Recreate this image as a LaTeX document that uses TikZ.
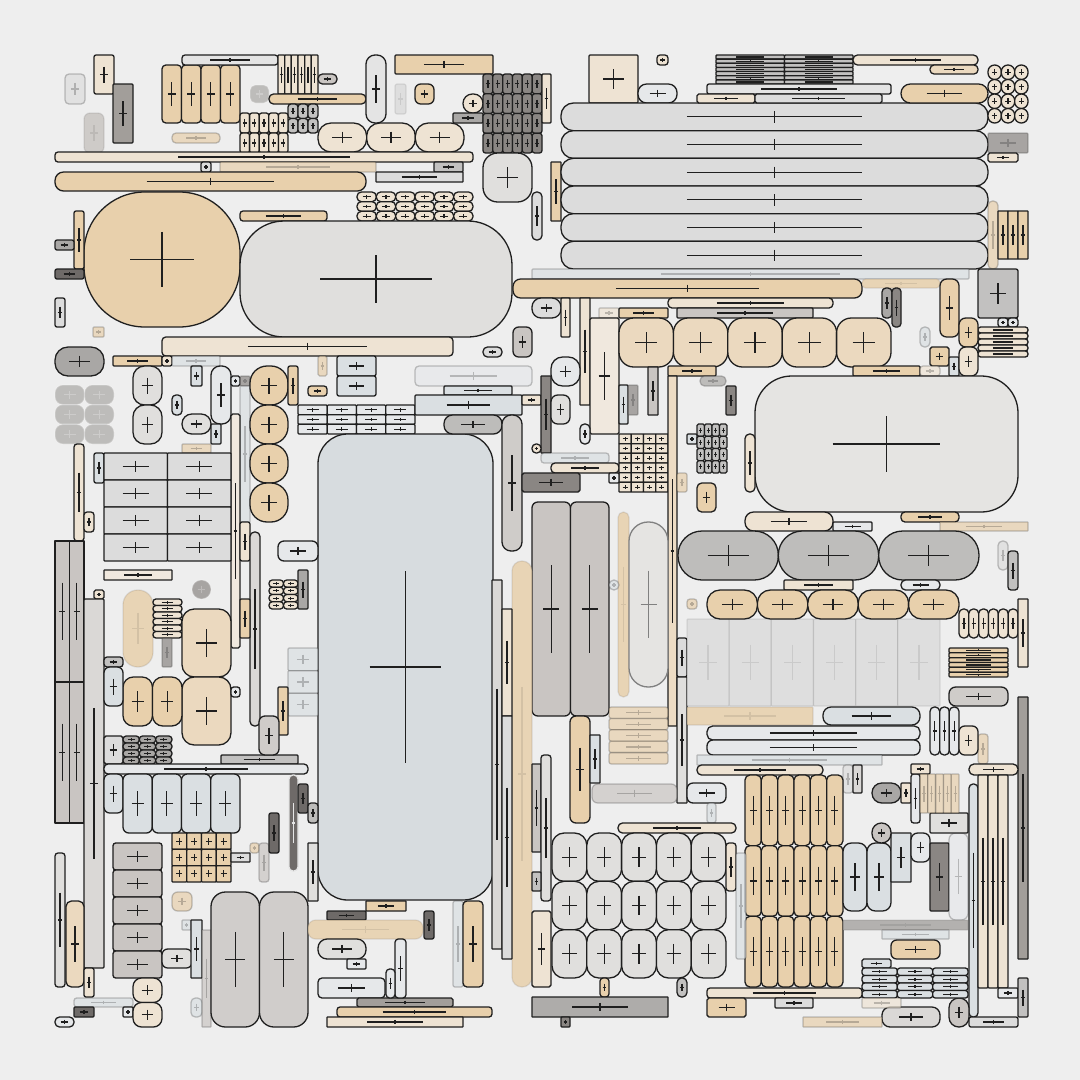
\documentclass[tikz,border=0pt]{standalone}
\definecolor{bgc}{HTML}{EEEEEE}
\definecolor{ink}{HTML}{1F1F1F}
\definecolor{ct}{HTML}{E8D0AC}
\definecolor{ct2}{HTML}{EBD9BF}
\definecolor{ct3}{HTML}{EDDCC4}
\definecolor{cb}{HTML}{EEE3D3}
\definecolor{cb2}{HTML}{F0E8DE}
\definecolor{cl}{HTML}{DCDCDC}
\definecolor{cl2}{HTML}{E4E4E4}
\definecolor{cl3}{HTML}{E0DFDD}
\definecolor{cl4}{HTML}{DAD8D6}
\definecolor{cl5}{HTML}{E5E4E2}
\definecolor{cw}{HTML}{E6E8EA}
\definecolor{cg}{HTML}{C9C5C2}
\definecolor{cg2}{HTML}{CFCCC9}
\definecolor{cg3}{HTML}{D0CDCB}
\definecolor{cbl}{HTML}{DADFE2}
\definecolor{cbl2}{HTML}{D7DCDF}
\definecolor{cm}{HTML}{A9A7A5}
\definecolor{cm2}{HTML}{BDBCBA}
\definecolor{cm3}{HTML}{BEBDBB}
\definecolor{cs}{HTML}{C2C1C0}
\definecolor{cd}{HTML}{8A8683}
\definecolor{ck}{HTML}{6E6A68}
\definecolor{cgg}{HTML}{A29E9A}
\definecolor{cgg2}{HTML}{AEACAA}
\tikzset{
  bxs/.style={line width=1.3pt,line join=round},
  crs/.style={line width=1.2pt},
  fd/.style={fill opacity=0.7,draw opacity=0.25},
  fdl/.style={fill opacity=0.85,draw opacity=0.1}
}
% box: [opts]{x1}{y1}{x2}{y2}{fill}{radius fraction}
\newcommand\bx[7][]{%
  \pgfmathsetmacro\bw{#4-#2}\pgfmathsetmacro\bh{#5-#3}%
  \pgfmathsetmacro\rr{#7*min(\bw,\bh)}%
  \pgfmathsetmacro\cx{(#2+#4)/2}\pgfmathsetmacro\cy{(#3+#5)/2}%
  \pgfmathsetmacro\dx{0.205*\bw}\pgfmathsetmacro\dy{0.205*\bh}%
  \begin{scope}[#1]
  \draw[bxs,fill=#6,rounded corners=\rr pt] (#2,#3) rectangle (#4,#5);
  \draw[crs] (\cx-\dx,\cy) -- (\cx+\dx,\cy) (\cx,\cy-\dy) -- (\cx,\cy+\dy);
  \end{scope}}
% grid: [opts]{x1}{y1}{x2}{y2}{ncol}{nrow}{fill}{radius fraction}
\newcommand\grd[9][]{%
  \pgfmathsetmacro\gw{(#4-#2)/#6}%
  \pgfmathsetmacro\gh{(#5-#3)/#7}%
  \foreach \ii in {1,...,#6}{\foreach \jj in {1,...,#7}{%
    \pgfmathsetmacro\ga{#2+(\ii-1)*\gw}%
    \pgfmathsetmacro\gb{#3+(\jj-1)*\gh}%
    \pgfmathsetmacro\gc{\ga+\gw}%
    \pgfmathsetmacro\gd{\gb+\gh}%
    \bx[#1]{\ga}{\gb}{\gc}{\gd}{#8}{#9}}}}
\begin{document}
\begin{tikzpicture}[x=1pt,y=-1pt,color=ink]
\useasboundingbox[fill=bgc] (0,0) rectangle (1080,1080);
% ---------- top left
\bx[fd]{65}{74}{85}{104}{cl}{0.2}
\bx{94}{55}{114}{94}{cb}{0.1}
\bx{113}{84}{133}{143}{cgg}{0.05}
\bx[fdl]{84}{113}{104}{153}{cg}{0.3}
\grd{162}{65}{240}{123}{4}{1}{ct}{0.2}
\bx{182}{55}{278}{65}{cl2}{0.3}
\grd{278}{55}{318}{94}{6}{1}{cb}{0.1}
\bx{318}{74}{337}{84}{cg}{0.45}
\bx[fd,color=white]{250}{85}{269}{103}{cm}{0.3}
\bx{269}{94}{366}{104}{ct}{0.45}
\grd{288}{104}{318}{133}{3}{2}{cs}{0.3}
\grd{240}{113}{288}{153}{5}{2}{cb}{0.25}
\bx[fd]{172}{133}{220}{143}{ct}{0.4}
\grd{318}{123}{464}{152}{3}{1}{cb}{0.45}
\bx{366}{55}{386}{123}{cl2}{0.45}
\bx{55}{152}{473}{162}{cb}{0.3}
\bx{201}{162}{211}{172}{cl}{0.2}
\bx[fd]{220}{162}{376}{172}{ct}{0.1}
\bx{434}{162}{463}{172}{cs}{0.1}
\bx{376}{172}{463}{182}{cl}{0.05}
\bx{55}{172}{366}{191}{ct}{0.45}
\bx{84}{192}{240}{327}{ct}{0.45}
\bx{74}{211}{84}{269}{ct}{0.2}
\bx{55}{240}{74}{250}{cm}{0.2}
\bx{55}{269}{84}{279}{ck}{0.2}
\bx{55}{298}{65}{327}{cl}{0.2}
\bx[fd]{93}{327}{104}{337}{ct}{0.1}
\bx{240}{211}{327}{221}{ct}{0.3}
\grd{357}{192}{473}{221}{6}{3}{cb}{0.45}
\bx{240}{221}{512}{337}{cl3}{0.38}
\bx{162}{337}{453}{356}{cb}{0.2}
\bx{55}{347}{104}{376}{cm}{0.45}
\bx{113}{356}{162}{366}{ct}{0.1}
\bx{162}{356}{172}{366}{cb}{0.2}
\bx[fd]{172}{356}{220}{366}{cbl}{0.1}
\bx[fd]{318}{356}{327}{376}{ct}{0.2}
\bx{337}{356}{376}{376}{cbl}{0.1}
\bx{337}{376}{376}{396}{cbl}{0.1}
% ---------- top middle
\bx{395}{55}{493}{74}{ct}{0.05}
\bx[fdl]{395}{84}{406}{114}{cl}{0.2}
\bx{415}{84}{434}{104}{ct}{0.3}
\bx{463}{94}{483}{113}{cb}{0.49}
\bx{453}{113}{483}{123}{cm}{0.1}
\grd{483}{74}{542}{153}{6}{4}{cd}{0.25}
\bx{542}{74}{551}{123}{cb}{0.1}
\bx{483}{153}{532}{202}{cl3}{0.3}
\bx{532}{192}{542}{240}{cl}{0.45}
\bx{551}{162}{561}{221}{ct}{0.05}
\bx{589}{55}{638}{103}{cb}{0.02}
\bx{657}{55}{668}{65}{cb}{0.3}
\bx{638}{84}{677}{103}{cw}{0.45}
\grd{561}{103}{988}{269}{1}{6}{cl}{0.45}
\bx[fd]{532}{269}{969}{279}{cbl}{0.1}
\bx{513}{279}{862}{298}{ct}{0.4}
\bx[fdl]{862}{279}{940}{288}{ct}{0.4}
\bx{668}{298}{833}{308}{cb}{0.4}
\bx{677}{308}{813}{318}{cg}{0.1}
\bx{532}{298}{561}{318}{cl}{0.45}
\bx{561}{298}{570}{337}{cb}{0.1}
\bx{580}{298}{590}{405}{cb}{0.05}
\bx[fd]{599}{308}{619}{318}{cb}{0.1}
\bx{619}{308}{668}{318}{ct}{0.1}
\bx{590}{318}{619}{434}{cb2}{0.05}
\grd{619}{318}{891}{367}{5}{1}{ct2}{0.3}
\bx{513}{327}{532}{357}{cg}{0.3}
\bx{483}{347}{502}{357}{cl}{0.45}
\bx[fd]{415}{366}{532}{386}{cw}{0.2}
\bx{551}{357}{580}{386}{cw}{0.4}
\bx{648}{367}{658}{415}{cg}{0.05}
\bx{668}{366}{716}{376}{ct}{0.1}
% ---------- top right
\grd{716}{55}{853}{84}{2}{7}{cs}{0.2}
\bx{853}{55}{978}{65}{cb}{0.45}
\bx{930}{65}{978}{74}{ct2}{0.45}
\bx{707}{84}{891}{94}{cl2}{0.2}
\bx{697}{94}{755}{103}{cb}{0.2}
\bx{755}{94}{882}{103}{cl}{0.2}
\bx{901}{84}{988}{103}{ct}{0.49}
\grd{988}{65}{1028}{123}{3}{4}{cb}{0.49}
\bx[fd]{988}{133}{1028}{153}{cd}{0.05}
\bx{988}{153}{1018}{162}{cb}{0.2}
\bx[fd]{988}{201}{998}{269}{ct}{0.45}
\grd{998}{211}{1028}{259}{3}{1}{ct}{0.05}
\bx{978}{269}{1018}{318}{cs}{0.05}
\grd{998}{318}{1018}{327}{2}{1}{cw}{0.3}
\grd{978}{327}{1028}{357}{1}{5}{cb}{0.45}
\bx{940}{279}{959}{337}{ct}{0.35}
\bx{959}{318}{978}{347}{ct}{0.35}
\bx{882}{288}{892}{318}{cm}{0.4}
\bx{892}{288}{901}{327}{cd}{0.4}
\bx[fd]{920}{327}{930}{347}{cbl}{0.45}
\bx{930}{347}{949}{366}{ct}{0.1}
\bx{949}{357}{959}{376}{cbl}{0.1}
\bx{959}{347}{978}{376}{cb}{0.35}
\bx{853}{366}{920}{376}{ct}{0.1}
\bx[fd]{920}{366}{940}{376}{cb}{0.3}
% ---------- middle left
\grd[fd,color=white]{55}{385}{114}{444}{2}{3}{cm}{0.4}
\bx{133}{366}{162}{405}{cl3}{0.4}
\bx{133}{405}{162}{444}{cl3}{0.4}
\bx{191}{366}{202}{386}{cbl}{0.1}
\bx{172}{395}{182}{415}{cbl}{0.4}
\bx{182}{414}{211}{434}{cl3}{0.49}
\bx{211}{366}{231}{424}{cw}{0.45}
\bx{211}{424}{221}{444}{cbl}{0.1}
\bx{231}{376}{240}{386}{cw}{0.2}
\bx[fd]{240}{376}{250}{386}{cd}{0.1}
\bx[fd]{240}{386}{250}{522}{cbl}{0.05}
\bx{231}{414}{240}{648}{cb2}{0.2}
\grd{250}{366}{288}{522}{1}{4}{ct}{0.45}
\bx{288}{366}{298}{405}{ct}{0.2}
\grd{298}{405}{415}{434}{4}{3}{cw}{0.1}
\bx{308}{386}{327}{396}{ct}{0.3}
\bx{318}{434}{493}{900}{cbl2}{0.17}
\bx{74}{444}{84}{541}{cb}{0.3}
\bx{84}{512}{94}{532}{cb}{0.3}
\bx{94}{453}{104}{483}{cbl}{0.2}
\bx[fd]{182}{444}{211}{453}{ct}{0.1}
\grd{104}{453}{231}{561}{2}{4}{cl}{0.03}
\bx{104}{570}{172}{580}{cb2}{0.05}
\bx[fd,color=white]{192}{580}{211}{599}{cd}{0.49}
\grd{55}{541}{84}{823}{2}{2}{cg}{0.0}
\bx{94}{590}{104}{599}{cb}{0.2}
\bx{84}{599}{104}{968}{cl4}{0.05}
\bx[fdl]{123}{590}{153}{667}{ct}{0.49}
\grd{153}{599}{182}{638}{1}{6}{cb}{0.45}
\bx[fd]{162}{638}{172}{667}{cd}{0.1}
\bx{182}{609}{231}{677}{ct2}{0.25}
\bx{182}{677}{231}{745}{ct2}{0.25}
\grd{123}{677}{182}{726}{2}{1}{ct}{0.35}
\bx{104}{657}{123}{667}{cs}{0.3}
\bx{104}{667}{123}{706}{cbl}{0.3}
\bx{231}{687}{240}{697}{cw}{0.3}
\bx{278}{541}{318}{561}{cw}{0.3}
\grd{269}{580}{298}{609}{2}{4}{cb}{0.45}
\bx{298}{570}{308}{609}{cm}{0.1}
\grd[fd]{288}{648}{318}{716}{1}{3}{cbl}{0.05}
\bx{278}{687}{288}{735}{ct}{0.1}
\bx{240}{522}{250}{561}{cb}{0.2}
\bx{250}{532}{260}{726}{cl4}{0.45}
\bx{240}{599}{250}{638}{ct}{0.1}
% ---------- middle centre
\bx{444}{386}{512}{395}{cbl}{0.1}
\bx{415}{395}{522}{415}{cbl}{0.05}
\bx{522}{395}{541}{405}{cb}{0.1}
\bx{444}{415}{502}{434}{cm2}{0.45}
\bx{502}{415}{522}{551}{cg2}{0.45}
\bx{541}{376}{551}{453}{cd}{0.05}
\bx{551}{395}{570}{424}{cl3}{0.35}
\bx{580}{424}{590}{444}{cw}{0.45}
\bx{532}{444}{541}{453}{cb}{0.45}
\bx[fd]{541}{453}{609}{463}{cbl}{0.3}
\bx{551}{463}{619}{473}{cb}{0.4}
\bx{522}{473}{580}{492}{cd}{0.1}
\grd{619}{434}{668}{492}{4}{6}{cb}{0.05}
\bx{609}{473}{619}{483}{cw}{0.1}
\bx{619}{385}{628}{424}{cbl}{0.1}
\bx[fd]{628}{385}{638}{415}{cd}{0.1}
\bx{687}{434}{697}{444}{cbl}{0.1}
\grd{697}{424}{727}{473}{4}{4}{cs}{0.2}
\bx{668}{376}{677}{726}{ct3}{0.05}
\bx[fd]{677}{473}{687}{492}{ct}{0.2}
\bx{697}{483}{716}{512}{ct}{0.25}
\grd{532}{502}{609}{716}{2}{1}{cg}{0.15}
\bx[fdl]{618}{512}{629}{697}{ct}{0.49}
\bx[color=black!50]{629}{522}{668}{687}{cl5}{0.49}
\bx[fd]{609}{580}{619}{590}{cbl}{0.49}
\bx[fd]{687}{599}{697}{609}{ct}{0.3}
\bx[fdl]{512}{561}{532}{987}{ct}{0.49}
\bx{492}{580}{502}{949}{cl4}{0.05}
\bx{502}{609}{512}{716}{cb}{0.05}
\bx{502}{716}{512}{959}{cl}{0.05}
\bx{677}{638}{687}{677}{cl}{0.2}
\bx{677}{677}{687}{803}{cl3}{0.05}
\grd[fdl]{687}{619}{940}{706}{6}{1}{cl}{0.02}
% ---------- right middle
\bx{755}{376}{1018}{512}{cl5}{0.27}
\bx{745}{434}{755}{492}{cb}{0.45}
\bx{726}{386}{736}{415}{cd}{0.1}
\bx[fd]{700}{376}{726}{386}{cm}{0.45}
\bx{745}{512}{833}{531}{cb}{0.45}
\bx{833}{522}{872}{531}{cw}{0.1}
\bx{901}{512}{959}{522}{ct}{0.4}
\bx[fd]{940}{522}{1028}{531}{ct}{0.05}
\grd{678}{531}{979}{580}{3}{1}{cm3}{0.49}
\bx{784}{580}{853}{590}{cb}{0.1}
\bx{901}{580}{940}{590}{cw}{0.45}
\grd{707}{590}{959}{619}{5}{1}{ct}{0.45}
\bx[fd]{998}{541}{1008}{570}{cl}{0.45}
\bx{1008}{551}{1018}{590}{cs}{0.3}
\grd{959}{609}{1018}{638}{6}{1}{cb}{0.45}
\bx{1018}{599}{1028}{667}{cb}{0.05}
\grd{949}{648}{1008}{677}{1}{6}{ct}{0.2}
\bx{949}{687}{1008}{706}{cg2}{0.35}
\bx{1018}{697}{1028}{959}{cgg}{0.05}
\bx{823}{707}{920}{725}{cbl}{0.45}
% ---------- bottom right
\bx[fdl]{687}{707}{813}{725}{ct}{0.05}
\bx{707}{726}{920}{740}{cw}{0.4}
\bx{707}{740}{920}{755}{cw}{0.4}
\bx[fd]{697}{755}{882}{765}{cbl}{0.05}
\bx{697}{765}{823}{775}{cb}{0.45}
\bx[fd]{843}{765}{853}{793}{cl}{0.3}
\bx{853}{765}{862}{793}{cl4}{0.1}
\grd{745}{775}{843}{987}{6}{3}{ct}{0.3}
\bx{687}{783}{726}{803}{cw}{0.3}
\bx[fd]{707}{803}{716}{823}{cbl}{0.3}
\bx{618}{823}{736}{833}{cb}{0.45}
\grd{552}{833}{726}{978}{5}{3}{cl3}{0.35}
\bx{726}{843}{736}{891}{cb}{0.3}
\bx[fd]{736}{853}{746}{959}{cbl}{0.2}
\grd{843}{843}{891}{911}{2}{1}{cbl}{0.35}
\bx{891}{833}{911}{882}{cbl}{0.02}
\bx{872}{823}{891}{843}{cg}{0.49}
\bx{911}{833}{930}{862}{cw}{0.35}
\bx{930}{843}{949}{911}{cd}{0.05}
\bx[fd]{949}{833}{968}{920}{cw}{0.35}
\bx{930}{813}{968}{833}{cl3}{0.05}
\bx{872}{783}{901}{803}{cm}{0.49}
\bx{901}{783}{911}{803}{cb}{0.1}
\bx{911}{774}{920}{823}{cw}{0.3}
\bx{911}{764}{930}{774}{cb}{0.1}
\grd[fd]{920}{774}{959}{813}{5}{1}{ct}{0.1}
\bx[fd]{978}{734}{988}{764}{ct}{0.3}
\grd{930}{707}{959}{755}{3}{1}{cw}{0.45}
\bx{959}{726}{978}{755}{cb}{0.3}
\bx{969}{764}{1018}{775}{cb}{0.45}
\bx{969}{784}{978}{1017}{cbl}{0.45}
\grd{978}{775}{1008}{988}{3}{1}{cb}{0.1}
\bx{998}{988}{1018}{998}{cw}{0.1}
\bx{1018}{978}{1028}{1017}{cs}{0.1}
\bx{969}{1017}{1018}{1027}{cl}{0.2}
\bx{949}{998}{969}{1027}{cg}{0.49}
\bx{882}{1007}{940}{1027}{cl4}{0.4}
\bx[fd]{803}{1017}{882}{1027}{ct}{0.05}
\bx[fdl]{843}{920}{968}{930}{cm}{0.05}
\bx[fd]{882}{930}{949}{939}{cbl}{0.05}
\bx{891}{940}{940}{959}{ct}{0.3}
\bx{862}{959}{891}{968}{cbl}{0.2}
\grd{862}{968}{968}{998}{3}{4}{cbl}{0.35}
\bx[fd]{862}{998}{901}{1008}{cb}{0.1}
\bx{707}{988}{862}{998}{cb}{0.3}
\bx{707}{998}{746}{1017}{ct}{0.1}
\bx{775}{998}{813}{1008}{cl}{0.1}
% ---------- bottom left
\bx{104}{736}{123}{764}{cl}{0.1}
\grd{123}{736}{172}{764}{3}{4}{cm}{0.45}
\bx{221}{755}{298}{764}{cs}{0.1}
\bx{259}{716}{279}{755}{cg2}{0.3}
\bx{104}{764}{308}{774}{cw}{0.4}
\bx{104}{774}{123}{813}{cbl}{0.3}
\grd{123}{774}{240}{833}{4}{1}{cbl}{0.2}
\grd{172}{833}{231}{882}{4}{3}{ct}{0.05}
\bx{231}{853}{250}{862}{cl}{0.05}
\bx[fd]{250}{843}{259}{853}{ct}{0.3}
\bx[fd]{259}{843}{269}{882}{cg}{0.3}
\bx{269}{813}{279}{853}{ck}{0.2}
\bx[color=white!80!gray]{289}{775}{298}{871}{ck}{0.45}
\bx{298}{784}{308}{813}{ck}{0.2}
\bx{308}{803}{318}{823}{cm2}{0.3}
\bx{308}{843}{318}{901}{cl3}{0.05}
\grd{113}{843}{162}{978}{1}{5}{cg}{0.1}
\bx{55}{853}{65}{987}{cl3}{0.3}
\bx{66}{901}{84}{987}{ct2}{0.3}
\bx{84}{968}{94}{997}{cb}{0.2}
\bx[fd]{74}{998}{133}{1007}{cbl}{0.3}
\bx{74}{1007}{94}{1017}{ck}{0.1}
\bx{123}{1007}{133}{1017}{cw}{0.1}
\bx{55}{1017}{74}{1027}{cw}{0.45}
\grd{133}{978}{162}{1027}{1}{2}{cb}{0.35}
\bx[fd]{172}{892}{192}{911}{ct}{0.3}
\bx{162}{949}{192}{968}{cl3}{0.3}
\bx[fd]{182}{920}{191}{930}{cbl}{0.1}
\bx{191}{920}{202}{978}{cbl}{0.05}
\bx[fd]{191}{998}{202}{1017}{cbl}{0.4}
\bx[fd]{202}{930}{211}{1027}{cg}{0.05}
\grd{211}{892}{308}{1027}{2}{1}{cg3}{0.3}
\bx{327}{911}{366}{920}{ck}{0.1}
\bx{366}{901}{406}{911}{ct}{0.05}
\bx[fdl]{308}{920}{423}{939}{ct}{0.4}
\bx{318}{939}{366}{959}{cl3}{0.45}
\bx{347}{959}{366}{969}{cw}{0.1}
\bx{318}{978}{385}{998}{cw}{0.2}
\bx{357}{998}{453}{1007}{cgg}{0.2}
\bx{337}{1007}{492}{1017}{ct}{0.3}
\bx{327}{1017}{463}{1027}{cb}{0.05}
\bx{424}{911}{434}{939}{ck}{0.2}
\bx{395}{939}{406}{998}{cw}{0.3}
\bx{386}{969}{395}{998}{cw}{0.4}
\bx[fd]{453}{901}{463}{987}{cbl}{0.2}
\bx{463}{901}{483}{987}{ct}{0.2}
\bx{532}{764}{541}{852}{cg}{0.05}
\bx{541}{755}{551}{901}{cl3}{0.3}
\bx{532}{872}{541}{891}{cs}{0.1}
\bx{532}{911}{551}{987}{cb}{0.1}
\bx{570}{716}{590}{823}{ct}{0.3}
\bx{590}{735}{600}{783}{cbl}{0.05}
\grd[fd]{609}{707}{668}{764}{1}{5}{ct}{0.2}
\bx[fd]{592}{784}{677}{803}{cg}{0.3}
\bx{600}{978}{609}{997}{ct}{0.35}
\bx{677}{978}{687}{997}{cs}{0.45}
\bx{532}{997}{668}{1017}{cgg2}{0.02}
\bx{561}{1017}{570}{1027}{cd}{0.1}
\end{tikzpicture}
\end{document}
